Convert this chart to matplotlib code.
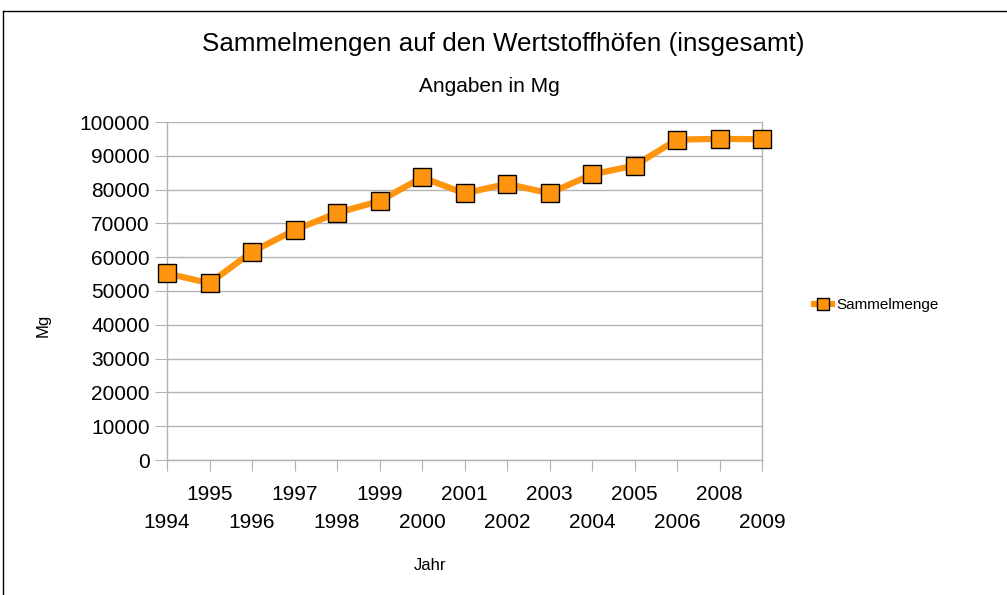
import matplotlib.pyplot as plt
from matplotlib.lines import Line2D

plt.rcParams['font.family'] = ['Liberation Sans', 'DejaVu Sans']

# Data
jahre = ['1994', '1995', '1996', '1997', '1998', '1999', '2000', '2001',
         '2002', '2003', '2004', '2005', '2006', '2008', '2009']
sammelmenge = [55200, 52300, 61600, 68000, 73100, 76600, 83600, 78900,
               81700, 78900, 84500, 87100, 94800, 95000, 94900]
y_ticks = list(range(0, 100001, 10000))

orange = '#ff950e'
grid_grey = '#b3b3b3'

fig = plt.figure(figsize=(10.07, 5.95), dpi=100)
ax = fig.add_axes([167 / 1007, 1 - 460 / 595, 595 / 1007, 338 / 595])

x = list(range(len(jahre)))
ax.plot(x, sammelmenge, color=orange, lw=4.5, marker='s', ms=13.5,
        markerfacecolor=orange, markeredgecolor='black', markeredgewidth=1,
        label='Sammelmenge', zorder=3, clip_on=False)

ax.set_xlim(0, len(jahre) - 1)
ax.set_ylim(0, 100000)
ax.set_yticks(y_ticks)
ax.set_yticklabels([str(v) for v in y_ticks], fontsize=15)
ax.set_xticks(x)
ax.set_xticklabels(jahre, fontsize=15)

ax.grid(axis='y', color=grid_grey, lw=1)
ax.set_axisbelow(True)
for s in ax.spines.values():
    s.set_color(grid_grey)
    s.set_linewidth(1)
ax.spines['top'].set_visible(False)

ax.tick_params(axis='y', length=8.5, color=grid_grey, pad=4)
ax.tick_params(axis='x', length=8, color=grid_grey)
for i, t in enumerate(ax.xaxis.get_major_ticks()):
    t.set_pad(10 if i % 2 else 30)

fig.text(503 / 1007, 1 - 44 / 595,
         'Sammelmengen auf den Wertstoffhöfen (insgesamt)',
         ha='center', va='center', fontsize=18.7)
fig.text(489 / 1007, 1 - 86 / 595, 'Angaben in Mg',
         ha='center', va='center', fontsize=15)
fig.text(43 / 1007, 1 - 325 / 595, 'Mg', rotation=90,
         ha='center', va='center', fontsize=12)
fig.text(430 / 1007, 1 - 565 / 595, 'Jahr',
         ha='center', va='center', fontsize=12)

fig.legend(loc='center left', bbox_to_anchor=(800 / 1007, 1 - 305 / 595),
           frameon=False, fontsize=11, handlelength=1.2, handletextpad=0.3,
           markerscale=0.6)

# outer border (top and left edges visible)
fig.add_artist(Line2D([3 / 1007, 1.0], [1 - 11 / 595, 1 - 11 / 595],
                      transform=fig.transFigure, color='black', lw=1))
fig.add_artist(Line2D([3 / 1007, 3 / 1007], [0, 1 - 11 / 595],
                      transform=fig.transFigure, color='black', lw=1))

fig.savefig('out.png', dpi=100)
